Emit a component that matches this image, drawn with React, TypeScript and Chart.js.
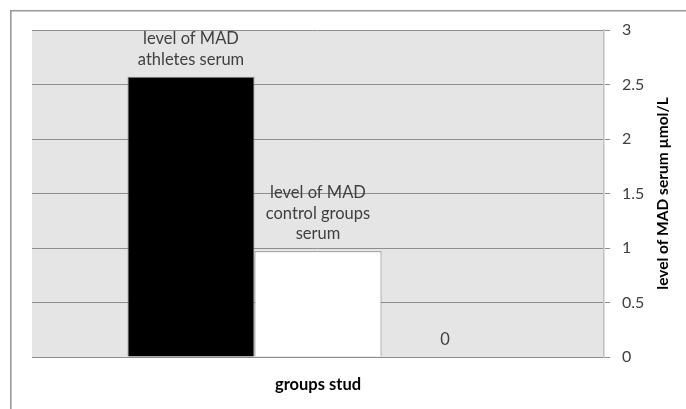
import React, { useEffect, useRef } from 'react';
import { Chart, registerables } from 'chart.js';

Chart.register(...registerables);

const categories = [''];
const seriesNames = ['athletes', 'control', 'zero'];
const athletesValues = [2.57];
const controlValues = [0.97];
const zeroValues = [0];
const barLabels = [
  ['level of MAD', 'athletes serum'],
  ['level of MAD', 'control groups', 'serum'],
  ['0'],
];
const yTitle = 'level of MAD serum µmol/L';
const xTitle = 'groups stud';
const yMin = 0;
const yMax = 3;
const yStep = 0.5;

const FONT = 'Lato, "Open Sans", sans-serif';

const decorPlugin = {
  id: 'decor',
  beforeDraw(chart: any) {
    const { ctx, chartArea } = chart;
    ctx.save();
    ctx.fillStyle = '#e5e5e5';
    ctx.fillRect(chartArea.left, chartArea.top, chartArea.right - chartArea.left, chartArea.bottom - chartArea.top);
    ctx.strokeStyle = '#9a9a9a';
    ctx.lineWidth = 1.6;
    ctx.beginPath();
    ctx.moveTo(10.8, 409);
    ctx.lineTo(10.8, 10.8);
    ctx.lineTo(686, 10.8);
    ctx.stroke();
    ctx.restore();
  },
  afterDatasetsDraw(chart: any) {
    const { ctx, chartArea } = chart;
    ctx.save();
    ctx.font = '16.5px ' + FONT;
    ctx.fillStyle = '#404040';
    ctx.textAlign = 'center';
    ctx.textBaseline = 'middle';
    chart.data.datasets.forEach((ds: any, i: number) => {
      const meta = chart.getDatasetMeta(i);
      const el = meta.data[0];
      if (!el) return;
      const lines = barLabels[i];
      const lh = 20.5;
      const lastY = el.y - 17.5;
      lines.forEach((t: string, k: number) => {
        ctx.fillText(t, el.x, lastY - (lines.length - 1 - k) * lh);
      });
    });
    ctx.fillStyle = '#000';
    ctx.font = 'bold 16.5px ' + FONT;
    ctx.fillText(xTitle, (chartArea.left + chartArea.right) / 2, 385);
    ctx.translate(663, (chartArea.top + chartArea.bottom) / 2);
    ctx.rotate(-Math.PI / 2);
    ctx.font = 'bold 15.5px ' + FONT;
    ctx.fillText(yTitle, 0, 0);
    ctx.restore();
  },
};

export default function App() {
  const ref = useRef<HTMLCanvasElement | null>(null);
  useEffect(() => {
    if (!ref.current) return;
    const chart = new Chart(ref.current, {
      type: 'bar',
      data: {
        labels: categories,
        datasets: [
          {
            label: seriesNames[0],
            data: athletesValues,
            backgroundColor: '#000000',
            borderColor: '#7f7f7f',
            borderWidth: 1,
          },
          {
            label: seriesNames[1],
            data: controlValues,
            backgroundColor: '#ffffff',
            borderColor: '#7f7f7f',
            borderWidth: 1,
          },
          {
            label: seriesNames[2],
            data: zeroValues,
            backgroundColor: '#ffffff',
            borderWidth: 0,
          },
        ],
      },
      options: {
        responsive: false,
        animation: false,
        events: [],
        layout: { padding: { left: 32, top: 30, right: 0, bottom: 0 } },
        plugins: { legend: { display: false }, tooltip: { enabled: false } },
        datasets: { bar: { categoryPercentage: 381 / 572, barPercentage: 1 } },
        scales: {
          x: {
            type: 'category',
            ticks: { display: false },
            grid: { display: false },
            border: { display: true, color: '#8e8e8e', width: 1 },
            afterFit: (s: any) => { s.height = 52; },
          },
          y: {
            position: 'right',
            min: yMin,
            max: yMax,
            ticks: {
              stepSize: yStep,
              padding: 12,
              color: '#404040',
              font: { family: FONT, size: 16 },
              callback: (v: any) => String(v),
            },
            grid: { color: '#8e8e8e', lineWidth: 1, tickLength: 6 },
            border: { display: true, color: '#c0c0c0', width: 1.5 },
            afterFit: (s: any) => { s.width = 82; },
          },
        },
      },
      plugins: [decorPlugin],
    });
    return () => chart.destroy();
  }, []);
  return (
    <div style={{ position: 'absolute', left: 0, top: 0, width: 686, height: 409, background: '#fff' }}>
      <canvas ref={ref} width={686} height={409} style={{ width: 686, height: 409, display: 'block' }} />
    </div>
  );
}
